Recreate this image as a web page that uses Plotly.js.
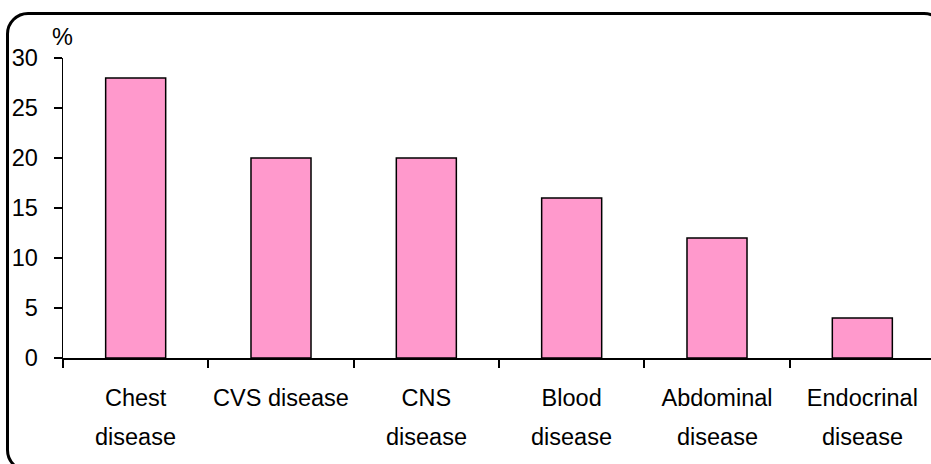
<!DOCTYPE html>
<html>
<head>
<meta charset="utf-8">
<script src="https://cdn.plot.ly/plotly-3.0.1.min.js"></script>
<style>
html, body { margin: 0; padding: 0; width: 931px; height: 464px; overflow: hidden; background: #fff; }
#wrap { position: relative; width: 931px; height: 464px; overflow: hidden; }
#frame { position: absolute; left: 6px; top: 12px; width: 940px; height: 460px; border: 3px solid #000; border-radius: 22px; box-sizing: border-box; pointer-events: none; z-index: 5; }
#chart { position: absolute; left: 0; top: 0; width: 940px; height: 464px; }
</style>
</head>
<body>
<div id="wrap">
<div id="chart"></div>
<div id="frame"></div>
</div>
<script>
const categories = ["Chest disease", "CVS disease", "CNS disease", "Blood disease", "Abdominal disease", "Endocrinal disease"];
const values = [28, 20, 20, 16, 12, 4];
const labelLine1 = ["Chest", "CVS disease", "CNS", "Blood", "Abdominal", "Endocrinal"];
const labelLine2 = ["disease", "", "disease", "disease", "disease", "disease"];
const yTicks = [0, 5, 10, 15, 20, 25, 30];
const yUnit = "%";

const font = {family: "Liberation Sans, Arial, sans-serif", size: 23.5, color: "#000"};

const trace = {
  type: "bar",
  x: categories,
  y: values,
  marker: {color: "#FF99CC", line: {color: "#000", width: 1.5}},
  hoverinfo: "skip"
};

const annotations = categories.map((c, i) => ({
  x: c, xref: "x", y: 0, yref: "paper",
  text: labelLine2[i], showarrow: false,
  yanchor: "top", yshift: -64, font: font
})).filter(a => a.text);

annotations.push({
  x: 0, xref: "paper", y: 1, yref: "paper",
  text: yUnit, showarrow: false, xanchor: "left", yanchor: "bottom",
  xshift: -13, yshift: 6, font: font
});

const layout = {
  width: 940, height: 464,
  margin: {l: 63, r: 5, t: 58, b: 106},
  paper_bgcolor: "rgba(0,0,0,0)",
  plot_bgcolor: "rgba(0,0,0,0)",
  font: font,
  bargap: 0.587,
  showlegend: false,
  xaxis: {
    type: "category",
    tickvals: categories,
    ticktext: labelLine1,
    tickangle: 0,
    tickson: "boundaries",
    ticks: "outside", ticklen: 8, tickwidth: 2, tickcolor: "#000",
    showline: true, linecolor: "#000", linewidth: 1.5,
    showgrid: false, zeroline: false,
    tickfont: font,
    ticklabelstandoff: 18,
    fixedrange: true
  },
  yaxis: {
    range: [0, 30],
    tickvals: yTicks,
    ticktext: yTicks.map(String),
    ticks: "outside", ticklen: 8, tickwidth: 1.5, tickcolor: "#000",
    showline: true, linecolor: "#000", linewidth: 1.5,
    showgrid: false, zeroline: false,
    tickfont: font,
    ticklabelstandoff: 11,
    fixedrange: true
  },
  annotations: annotations
};

Plotly.newPlot("chart", [trace], layout, {staticPlot: true, displayModeBar: false});
</script>
</body>
</html>
